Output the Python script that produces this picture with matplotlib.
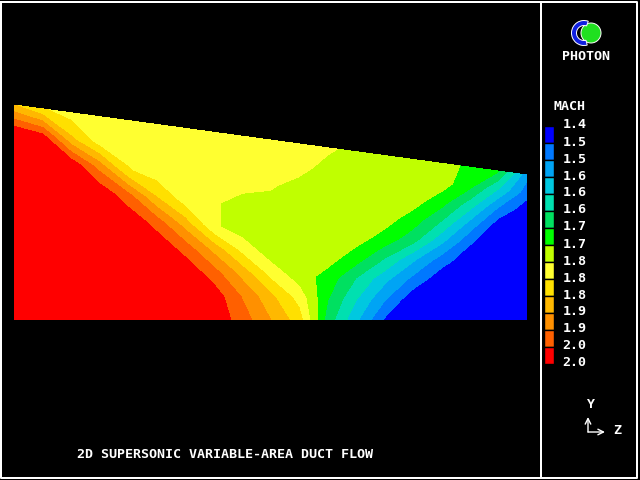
import numpy as np
import matplotlib
matplotlib.use("Agg")
import matplotlib.pyplot as plt
from matplotlib.patches import Circle, Wedge
from matplotlib.transforms import ScaledTranslation

# duct geometry (arbitrary units)
duct_length = 5.13
inlet_height = 2.15
exit_height = 1.45
n_stations = 19
n_rows = 9

# Mach number, one row per height fraction (bottom wall first)
mach_rows = [
    [1.99, 1.99, 1.99, 1.99, 1.99, 1.99, 1.99, 1.99, 1.936, 1.872, 1.807, 1.638, 1.538, 1.437, 1.41, 1.41, 1.41, 1.41, 1.41],
    [1.99, 1.99, 1.99, 1.99, 1.99, 1.99, 1.99, 1.983, 1.912, 1.841, 1.77, 1.66, 1.574, 1.49, 1.41, 1.41, 1.41, 1.41, 1.41],
    [1.99, 1.99, 1.99, 1.99, 1.99, 1.99, 1.99, 1.934, 1.857, 1.775, 1.72, 1.685, 1.614, 1.543, 1.471, 1.41, 1.41, 1.41, 1.41],
    [1.99, 1.99, 1.99, 1.99, 1.99, 1.99, 1.938, 1.858, 1.776, 1.72, 1.72, 1.72, 1.682, 1.614, 1.536, 1.46, 1.41, 1.41, 1.41],
    [1.99, 1.99, 1.99, 1.99, 1.99, 1.937, 1.852, 1.75, 1.72, 1.72, 1.72, 1.72, 1.72, 1.685, 1.63, 1.537, 1.445, 1.41, 1.41],
    [1.99, 1.99, 1.99, 1.99, 1.928, 1.832, 1.765, 1.75, 1.72, 1.72, 1.72, 1.72, 1.72, 1.72, 1.68, 1.61, 1.511, 1.41, 1.41],
    [1.99, 1.99, 1.99, 1.90, 1.79, 1.765, 1.765, 1.765, 1.765, 1.75, 1.72, 1.72, 1.72, 1.72, 1.72, 1.674, 1.588, 1.481, 1.41],
    [1.99, 1.966, 1.837, 1.765, 1.765, 1.765, 1.765, 1.765, 1.765, 1.765, 1.765, 1.72, 1.72, 1.72, 1.72, 1.72, 1.667, 1.567, 1.46],
    [1.83, 1.79, 1.765, 1.765, 1.765, 1.765, 1.765, 1.765, 1.765, 1.765, 1.765, 1.755, 1.72, 1.72, 1.72, 1.72, 1.689, 1.66, 1.50],
]

levels = [1.400, 1.443, 1.486, 1.529, 1.571, 1.614, 1.657, 1.700,
          1.743, 1.786, 1.829, 1.871, 1.914, 1.957, 2.000]
level_labels = ["1.4", "1.5", "1.5", "1.6", "1.6", "1.6", "1.7", "1.7",
                "1.8", "1.8", "1.8", "1.9", "1.9", "2.0", "2.0"]
band_colors = ["#0000ff", "#0078ff", "#00a4f4", "#00c8e0", "#00e0b0", "#00e060", "#00ff00",
               "#c0ff00", "#ffff30", "#ffe000", "#ffb800", "#ff9000", "#ff6000", "#ff0000"]

title = "2D SUPERSONIC VARIABLE-AREA DUCT FLOW"

mach = np.array(mach_rows)
z = np.linspace(0, duct_length, n_stations)
eta = np.linspace(0, 1, n_rows)
top = inlet_height + (exit_height - inlet_height) * z / duct_length
Z, ETA = np.meshgrid(z, eta)
Y = ETA * top[np.newaxis, :]

font = "DejaVu Sans Mono"
fig = plt.figure(figsize=(6.4, 4.8), dpi=100, facecolor="black")

ax = fig.add_axes([0, 0, 1, 1])
ax.set_facecolor("black")
ax.contourf(Z, Y, mach, levels=levels, colors=band_colors, antialiased=False)
ax.set_xlim(-0.14, 6.26)
ax.set_ylim(-1.60, 3.20)
ax.axis("off")

# legend
cax = fig.add_axes([544 / 640, 1 - 364 / 480, 10 / 640, 238 / 480])
cax.bar(np.zeros(len(band_colors)), np.diff(levels), bottom=levels[:-1], width=1,
        color=band_colors, edgecolor="black", linewidth=1)
cax.set_xlim(-0.5, 0.5)
cax.set_ylim(levels[-1], levels[0])
cax.set_facecolor("black")
cax.set_xticks([])
cax.set_yticks(levels)
cax.set_yticklabels(level_labels, family=font, fontsize=9.6, weight="bold", color="white")
cax.yaxis.tick_right()
cax.tick_params(axis="y", length=0, pad=6)
shift = ScaledTranslation(0, 2.5 / 100, fig.dpi_scale_trans)
for lab in cax.get_yticklabels():
    lab.set_transform(lab.get_transform() + shift)
for s in cax.spines.values():
    s.set_visible(False)

# overlay in pixel coordinates for frame and annotations
ov = fig.add_axes([0, 0, 1, 1], facecolor="none")
ov.set_xlim(0, 640)
ov.set_ylim(480, 0)
ov.axis("off")
lw = 1.44
ov.plot([1, 636.5, 636.5, 1, 1], [2, 2, 477.5, 477.5, 2], color="white", lw=lw)
ov.plot([541, 541], [2, 477.5], color="white", lw=lw)

ov.text(77, 454, title, family=font, fontsize=9.6, weight="bold", color="white",
        ha="left", va="center")
ov.text(554, 106, "MACH", family=font, fontsize=9.6, weight="bold", color="white",
        ha="left", va="center")
ov.text(586, 56, "PHOTON", family=font, fontsize=9.6, weight="bold", color="white",
        ha="center", va="center")

# logo
ov.add_patch(Circle((591, 33), 10, facecolor="#20e020", edgecolor="white", lw=0.7))
ov.add_patch(Wedge((584, 33), 12.5, 75, 290, width=5, facecolor="#1020e0",
                   edgecolor="white", lw=0.7))

# axis triad
ov.annotate("", xy=(588, 417), xytext=(588, 432),
            arrowprops=dict(arrowstyle="->", color="white", lw=1, shrinkA=0, shrinkB=0))
ov.annotate("", xy=(605, 432), xytext=(588, 432),
            arrowprops=dict(arrowstyle="->", color="white", lw=1, shrinkA=0, shrinkB=0))
ov.text(590, 404, "Y", family=font, fontsize=9.6, weight="bold", color="white",
        ha="center", va="center")
ov.text(617, 430, "Z", family=font, fontsize=9.6, weight="bold", color="white",
        ha="center", va="center")

fig.savefig("out.png", dpi=100, facecolor="black")
